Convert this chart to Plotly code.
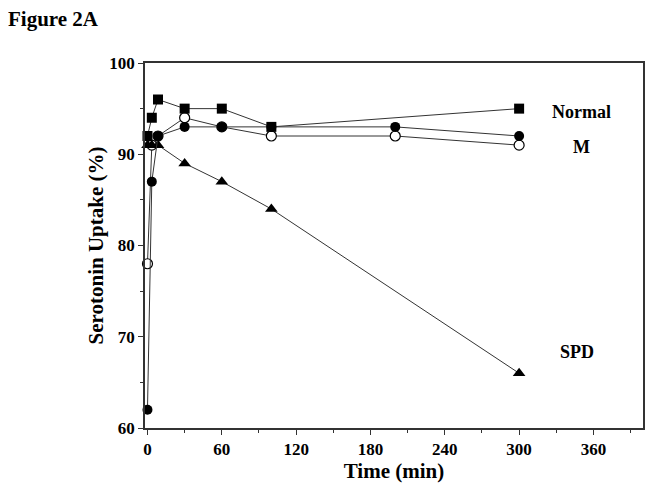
import plotly.graph_objects as go

# Data
normal_t = [0, 3.5, 8.5, 30, 60, 100, 300]
normal_v = [92, 94, 96, 95, 95, 93, 95]

m_filled_t = [0, 3.5, 8.5, 30, 60, 100, 200, 300]
m_filled_v = [62, 87, 92, 93, 93, 93, 93, 92]

m_open_t = [0, 3.5, 8.5, 30, 60, 100, 200, 300]
m_open_v = [78, 91, 92, 94, 93, 92, 92, 91]

spd_t = [0, 3.5, 8.5, 30, 60, 100, 300]
spd_v = [91, 91, 91, 89, 87, 84, 66]

x_ticks = [0, 60, 120, 180, 240, 300, 360]
y_ticks = [60, 70, 80, 90, 100]

labels = ["Normal", "M", "SPD"]
label_x = [350, 350, 347]
label_y = [94.6, 90.8, 68.3]

FONT = "Liberation Serif"
line_style = dict(color="#333333", width=1)

fig = go.Figure()
fig.add_trace(go.Scatter(x=m_open_t, y=m_open_v, mode="lines+markers", line=line_style,
                         marker=dict(symbol="circle", size=10, color="white",
                                     line=dict(color="black", width=1.2)),
                         cliponaxis=False, showlegend=False))
fig.add_trace(go.Scatter(x=spd_t, y=spd_v, mode="lines+markers", line=line_style,
                         marker=dict(symbol="triangle-up", size=11, color="black"),
                         cliponaxis=False, showlegend=False))
fig.add_trace(go.Scatter(x=m_filled_t, y=m_filled_v, mode="lines+markers", line=line_style,
                         marker=dict(symbol="circle", size=10, color="black"),
                         cliponaxis=False, showlegend=False))
fig.add_trace(go.Scatter(x=normal_t, y=normal_v, mode="lines+markers", line=line_style,
                         marker=dict(symbol="square", size=10, color="black"),
                         cliponaxis=False, showlegend=False))

for t, xx, yy in zip(labels, label_x, label_y):
    fig.add_annotation(x=xx, y=yy, text=f"<b>{t}</b>", showarrow=False,
                       font=dict(family=FONT, size=18, color="black"))

axis_common = dict(showgrid=False, zeroline=False, showline=True, linecolor="#333333",
                   linewidth=1.5, mirror=True, ticks="outside", ticklen=5,
                   tickcolor="#333333", tickfont=dict(family=FONT, size=17, color="black"))

fig.update_xaxes(range=[-2, 400], tickvals=x_ticks,
                 ticktext=[f"<b>{v}</b>" for v in x_ticks],
                 minor=dict(dtick=30, tick0=0, ticks="outside", ticklen=3, tickcolor="#333333"),
                 title=dict(text="<b>Time (min)</b>", font=dict(family=FONT, size=21, color="black"),
                            standoff=2),
                 **axis_common)
fig.update_yaxes(range=[60, 100], tickvals=y_ticks,
                 ticktext=[f"<b>{v}</b>" for v in y_ticks],
                 minor=dict(dtick=5, tick0=60, ticks="outside", ticklen=3, tickcolor="#333333"),
                 title=dict(text="<b>Serotonin Uptake (%)</b>",
                            font=dict(family=FONT, size=21, color="black"), standoff=0),
                 **axis_common)

fig.update_layout(
    width=646, height=480,
    margin=dict(l=137, r=9, t=55, b=60),
    paper_bgcolor="white", plot_bgcolor="white",
    title=dict(text="<b>Figure 2A</b>", x=0, xanchor="left", y=1 - 11 / 480, yanchor="middle",
               font=dict(family=FONT, size=21, color="black")),
)

fig.write_html("out.html")
